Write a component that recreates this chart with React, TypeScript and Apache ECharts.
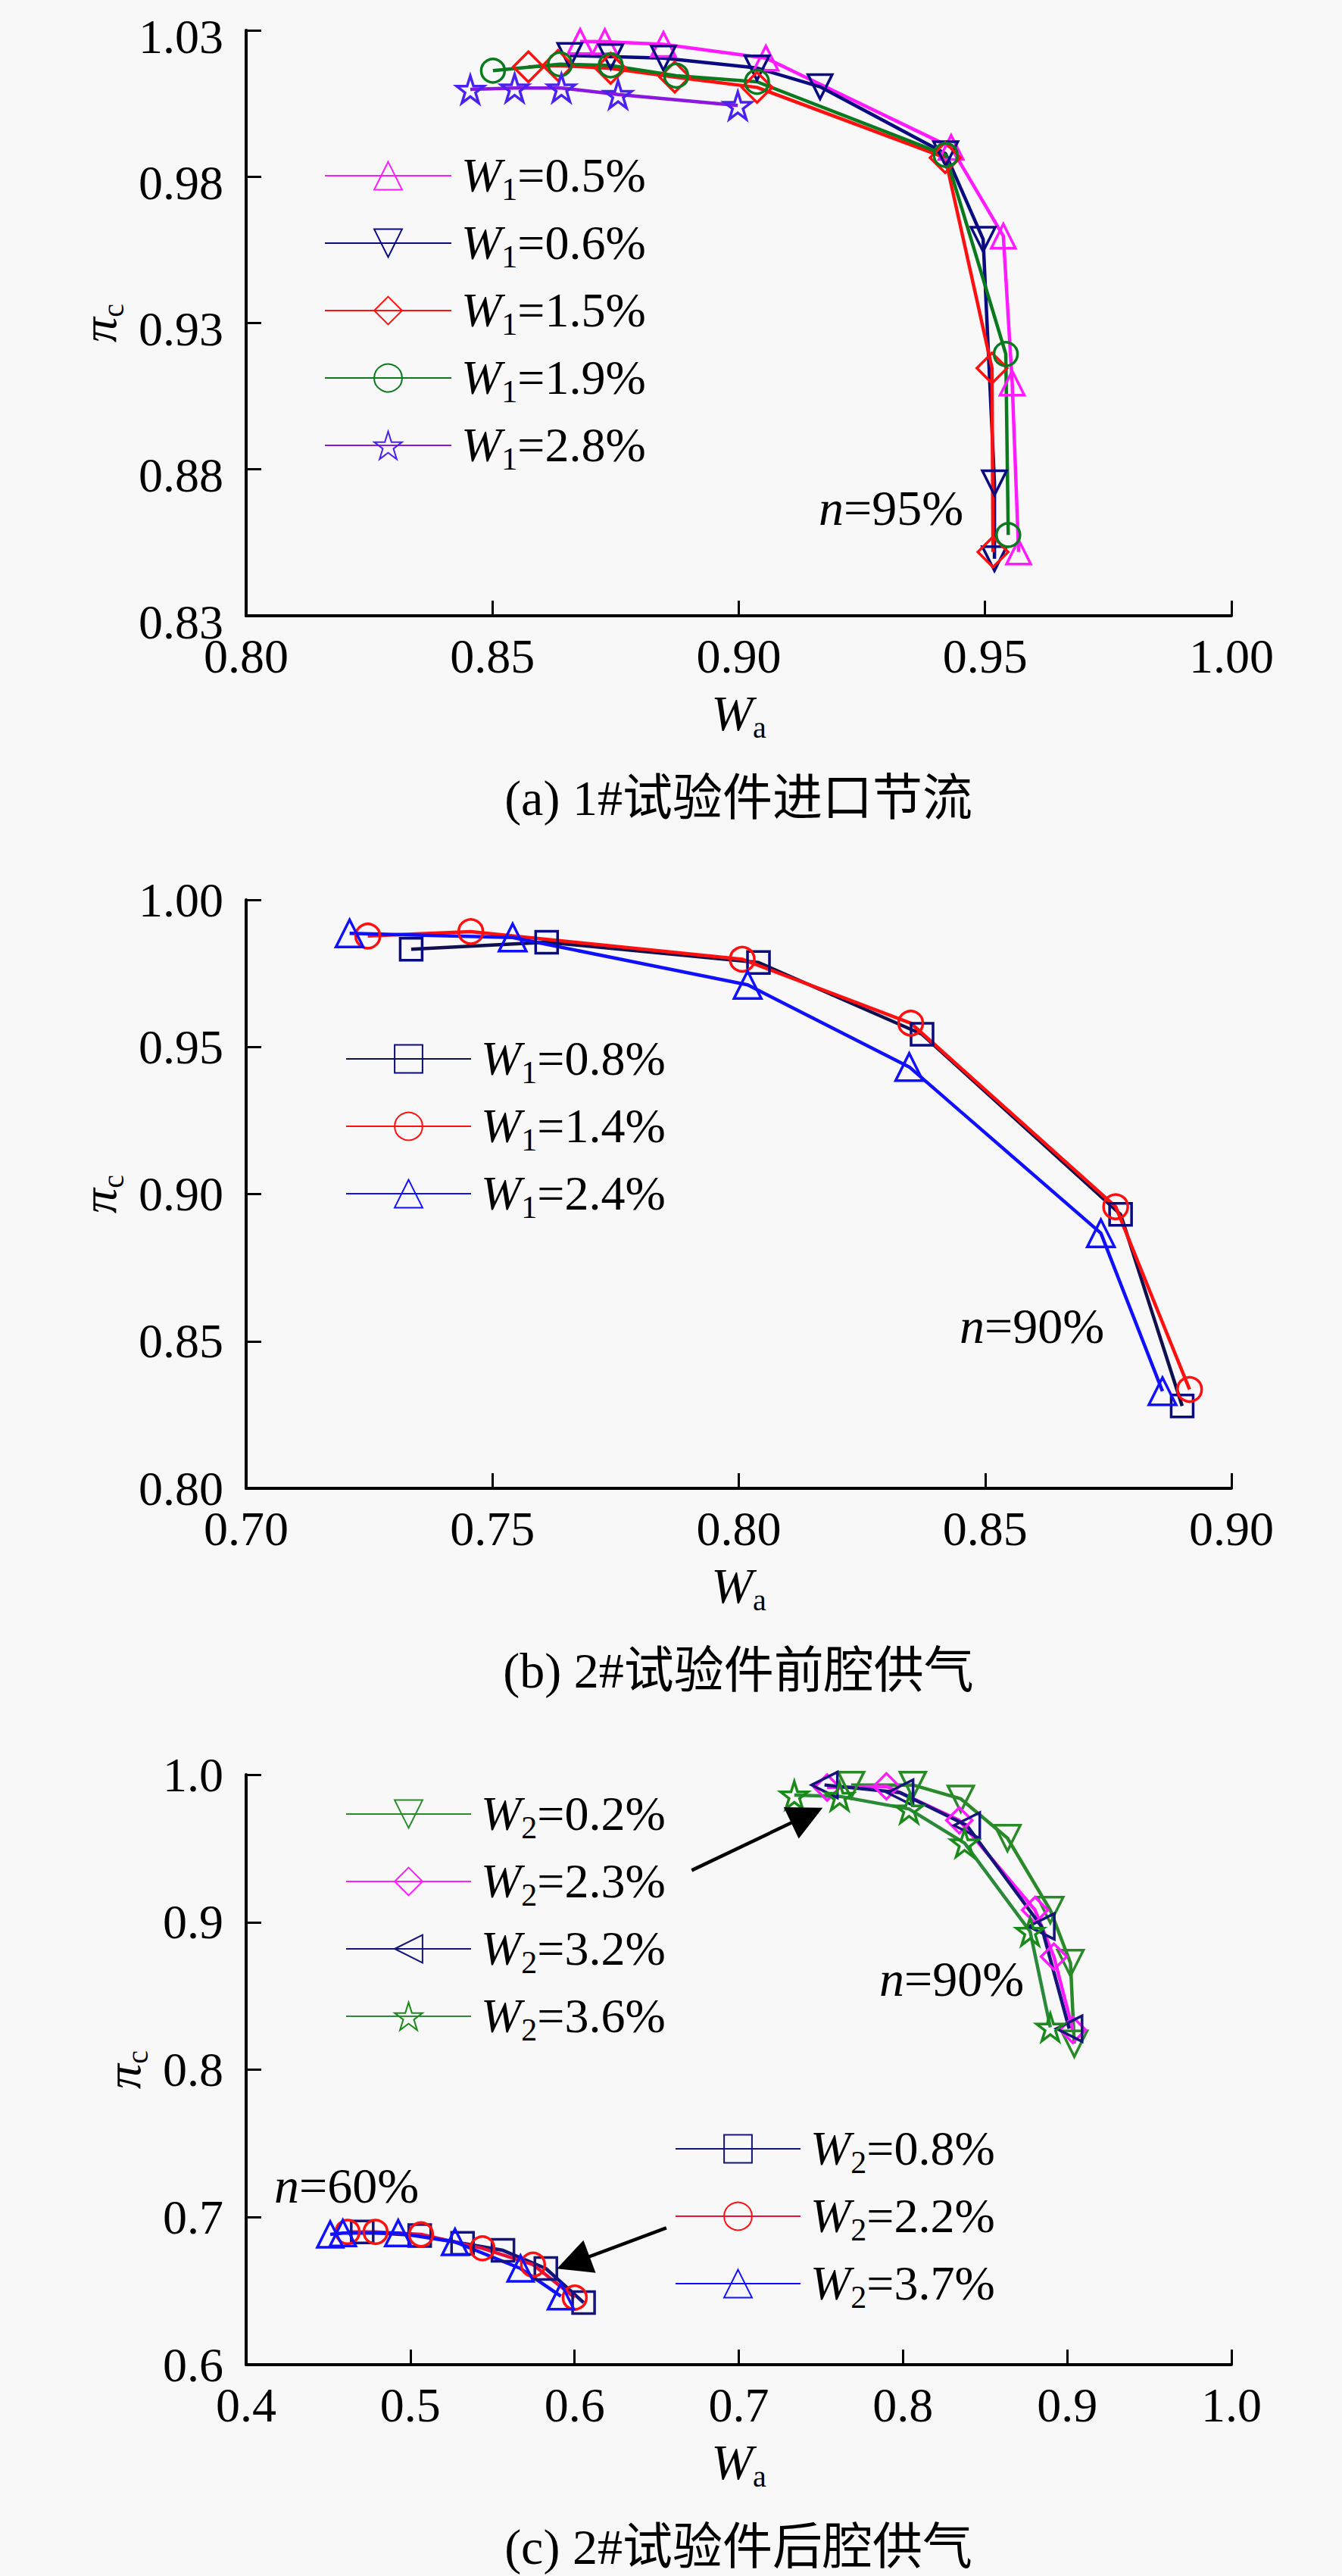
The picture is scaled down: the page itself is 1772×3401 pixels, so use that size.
import React, { useEffect, useRef } from "react";
import * as echarts from "echarts";

// ---------- Panel (a): 1# inlet throttling, n = 95% ----------
const aXTicks = [0.8, 0.85, 0.9, 0.95, 1.0];
const aYTicks = [0.83, 0.88, 0.93, 0.98, 1.03];
const aW05 = [[0.8678, 1.0262], [0.8728, 1.0261], [0.8847, 1.0252], [0.9055, 1.0205], [0.9431, 0.99], [0.9537, 0.9597], [0.9555, 0.9095], [0.9568, 0.8518]];
const aW06 = [[0.8657, 1.0214], [0.874, 1.021], [0.8847, 1.0205], [0.9037, 1.0171], [0.9165, 1.0107], [0.942, 0.9878], [0.9496, 0.9586], [0.9519, 0.8754], [0.9519, 0.8495]];
const aW15 = [[0.8573, 1.0175], [0.8633, 1.018], [0.874, 1.017], [0.887, 1.014], [0.9037, 1.0105], [0.9419, 0.9865], [0.9514, 0.9146], [0.9516, 0.8518]];
const aW19 = [[0.8501, 1.0162], [0.8637, 1.0184], [0.874, 1.018], [0.8873, 1.0145], [0.9037, 1.0124], [0.942, 0.9874], [0.9542, 0.9194], [0.9547, 0.8576]];
const aW28 = [[0.8455, 1.0098], [0.8545, 1.0103], [0.864, 1.0103], [0.8755, 1.0081], [0.8998, 1.0043]];

// ---------- Panel (b): 2# front cavity supply, n = 90% ----------
const bXTicks = [0.7, 0.75, 0.8, 0.85, 0.9];
const bYTicks = [0.8, 0.85, 0.9, 0.95, 1.0];
const bW08 = [[0.7335, 0.9832], [0.761, 0.9856], [0.804, 0.9787], [0.8372, 0.9543], [0.8775, 0.8931], [0.89, 0.828]];
const bW14 = [[0.7247, 0.9877], [0.7456, 0.9892], [0.8007, 0.9798], [0.8349, 0.9581], [0.8765, 0.8957], [0.8915, 0.8336]];
const bW24 = [[0.721, 0.9886], [0.7541, 0.9872], [0.8018, 0.9711], [0.8346, 0.9432], [0.8735, 0.8867], [0.886, 0.833]];

// ---------- Panel (c): 2# rear cavity supply, n = 90% and 60% ----------
const cXTicks = [0.4, 0.5, 0.6, 0.7, 0.8, 0.9, 1.0];
const cYTicks = [0.6, 0.7, 0.8, 0.9, 1.0];
const cW02 = [[0.7684, 0.993], [0.806, 0.993], [0.8352, 0.9836], [0.8636, 0.957], [0.8897, 0.9082], [0.902, 0.8723], [0.9043, 0.8176]];
const cW23 = [[0.7538, 0.9913], [0.7899, 0.9921], [0.8343, 0.969], [0.8804, 0.9082], [0.8919, 0.8766], [0.9034, 0.827]];
const cW32 = [[0.7522, 0.993], [0.7983, 0.9878], [0.8389, 0.9656], [0.8843, 0.8971], [0.9012, 0.8278]];
const cW36 = [[0.7338, 0.9861], [0.7614, 0.9853], [0.8037, 0.9767], [0.8375, 0.9536], [0.8774, 0.8937], [0.8897, 0.8287]];
const cW08 = [[0.4707, 0.69], [0.5057, 0.6875], [0.5318, 0.6823], [0.5564, 0.6775], [0.5825, 0.6652], [0.6055, 0.6421]];
const cW22 = [[0.4618, 0.69], [0.4788, 0.69], [0.5065, 0.6883], [0.5439, 0.6789], [0.5747, 0.6678], [0.6001, 0.6455]];
const cW37 = [[0.4512, 0.6883], [0.4589, 0.6892], [0.4926, 0.6892], [0.5272, 0.6832], [0.5671, 0.6652], [0.5917, 0.6464]];
const cArrows = [
  [[0.6713, 0.9351], [0.7415, 0.9724]],
  [[0.6559, 0.6928], [0.5992, 0.6692]],
];

const captions = ["(a) 1#试验件进口节流", "(b) 2#试验件前腔供气", "(c) 2#试验件后腔供气"];
const speedLabels = ["=95%", "=90%", "=90%", "=60%"];

const SERIF = "'Liberation Serif', 'Times New Roman', serif";
const CAPFONT = "'Liberation Serif', 'Noto Sans CJK SC', serif";
const STAR =
  "path://M0,-10L2.245,-3.09L9.51,-3.09L3.633,1.18L5.88,8.09L0,3.82L-5.88,8.09L-3.633,1.18L-9.51,-3.09L-2.245,-3.09Z";

const FS = 64;
const subRich = (size: number, sub: number, pad: number) => ({
  i: { fontStyle: "italic", fontSize: size, fontFamily: SERIF, lineHeight: size + 2, verticalAlign: "top", color: "#000" },
  s: { fontSize: sub, fontFamily: SERIF, lineHeight: sub, padding: [pad, 0, 0, 0], verticalAlign: "top", color: "#000" },
  r: { fontSize: size, fontFamily: SERIF, lineHeight: size + 2, verticalAlign: "top", color: "#000" },
});

const legendFormatter = (name: string) => {
  const m = name.match(/^W(\d)=(.*)$/);
  if (!m) return name;
  return `{i|W}{s|${m[1]}}{r|=${m[2]}}`;
};

function mkAxis(grid: number, ticks: number[], digits: number, isX: boolean, nameGap: number, labelPad = 0) {
  return {
    type: "value",
    gridIndex: grid,
    min: ticks[0],
    max: ticks[ticks.length - 1],
    interval: +(ticks[1] - ticks[0]).toFixed(4),
    axisLine: { show: true, onZero: false, lineStyle: { color: "#000", width: 4 } },
    axisTick: { show: true, inside: true, length: 20, lineStyle: { color: "#000", width: 3 } },
    splitLine: { show: false },
    axisLabel: {
      color: "#000",
      fontSize: FS,
      fontFamily: SERIF,
      lineHeight: isX ? 66 : 48,
      margin: isX ? 20 : 30,
      showMinLabel: true,
      showMaxLabel: true,
      formatter: (v: number) => `{t|${v.toFixed(digits)}}`,
      rich: {
        t: {
          fontSize: FS,
          fontFamily: SERIF,
          color: "#000",
          lineHeight: isX ? 66 : 48,
          padding: [labelPad, 0, 0, 0],
        },
      },
    },
    name: isX ? "{i|W}{s|a}" : "{i|π}{s|c}",
    nameLocation: "middle",
    nameGap,
    nameTextStyle: { color: "#000", fontSize: FS, fontFamily: SERIF, rich: subRich(66, 40, 32) },
  };
}

type Spec = {
  name: string;
  data: number[][];
  color: string;
  lineColor?: string;
  symbol: string;
  size: number;
  rotate?: number;
  grid: number;
};

function mkSeries(s: Spec) {
  return {
    type: "line",
    name: s.name,
    xAxisIndex: s.grid,
    yAxisIndex: s.grid,
    data: s.data,
    symbol: s.symbol,
    symbolSize: s.size,
    symbolRotate: s.rotate || 0,
    showSymbol: true,
    color: s.color,
    lineStyle: { color: s.lineColor || s.color, width: 4.5 },
    itemStyle: { color: "rgba(0,0,0,0)", borderColor: s.color, borderWidth: 3.5 },
    emphasis: { disabled: true },
    clip: false,
  };
}

const specs: Spec[] = [
  { name: "W1=0.5%", data: aW05, color: "#ff1aff", symbol: "triangle", size: 32, grid: 0 },
  { name: "W1=0.6%", data: aW06, color: "#0a0a80", symbol: "triangle", size: 32, rotate: 180, grid: 0 },
  { name: "W1=1.5%", data: aW15, color: "#ff1010", symbol: "diamond", size: 40, grid: 0 },
  { name: "W1=1.9%", data: aW19, color: "#0b7a1e", symbol: "circle", size: 31, grid: 0 },
  { name: "W1=2.8%", data: aW28, color: "#4a22f0", lineColor: "#8a18e0", symbol: STAR, size: 36, grid: 0 },
  { name: "W1=0.8%", data: bW08, color: "#0a0a80", lineColor: "#101050", symbol: "rect", size: 29, grid: 1 },
  { name: "W1=1.4%", data: bW14, color: "#ff1010", symbol: "circle", size: 32, grid: 1 },
  { name: "W1=2.4%", data: bW24, color: "#1010ff", symbol: "triangle", size: 36, grid: 1 },
  { name: "W2=0.2%", data: cW02, color: "#2a8a2a", symbol: "triangle", size: 34, rotate: 180, grid: 2 },
  { name: "W2=2.3%", data: cW23, color: "#ff1aff", symbol: "diamond", size: 34, grid: 2 },
  { name: "W2=3.2%", data: cW32, color: "#14147a", symbol: "triangle", size: 34, rotate: 90, grid: 2 },
  { name: "W2=3.6%", data: cW36, color: "#1a8a1a", lineColor: "#2a8a3a", symbol: STAR, size: 36, grid: 2 },
  { name: "W2=0.8%", data: cW08, color: "#14147a", symbol: "rect", size: 29, grid: 2 },
  { name: "W2=2.2%", data: cW22, color: "#ff1010", lineColor: "#e8103a", symbol: "circle", size: 31, grid: 2 },
  { name: "W2=3.7%", data: cW37, color: "#1010ff", symbol: "triangle", size: 34, grid: 2 },
];

function mkLegend(names: string[], left: number, top: number, itemWidth: number) {
  return {
    data: names,
    orient: "vertical",
    left,
    top,
    padding: 0,
    itemWidth,
    itemHeight: 46,
    itemGap: 17,
    selectedMode: false,
    formatter: legendFormatter,
    textStyle: { color: "#000", fontSize: FS, fontFamily: SERIF, padding: [0, 0, 0, 8], rich: subRich(FS, 42, 30) },
  };
}

function speedText(x: number, y: number, rest: string) {
  return {
    type: "text",
    x,
    y,
    style: {
      text: `{i|n}{r|${rest}}`,
      fill: "#000",
      fontSize: 66,
      fontFamily: SERIF,
      align: "left",
      verticalAlign: "middle",
      rich: {
        i: { fontStyle: "italic", fontSize: 66, fontFamily: SERIF, fill: "#000" },
        r: { fontSize: 66, fontFamily: SERIF, fill: "#000" },
      },
    },
  };
}

function captionText(y: number, text: string) {
  return {
    type: "text",
    x: 975,
    y,
    style: { text, fill: "#000", fontSize: 66, fontFamily: CAPFONT, align: "center", verticalAlign: "middle" },
  };
}

function buildOption() {
  const series: any[] = specs.map(mkSeries);
  // arrows in panel (c)
  series.push({
    type: "line",
    xAxisIndex: 2,
    yAxisIndex: 2,
    data: [],
    silent: true,
    markLine: {
      silent: true,
      symbol: ["none", "triangle"],
      symbolSize: 46,
      label: { show: false },
      lineStyle: { color: "#000", width: 4.5, type: "solid" },
      itemStyle: { color: "#000" },
      data: cArrows.map((a) => [{ coord: a[0] }, { coord: a[1] }]),
    },
  });
  return {
    animation: false,
    backgroundColor: "#f8f8f8",
    grid: [
      { left: 325, top: 33, width: 1301, height: 780 },
      { left: 325, top: 1188, width: 1301, height: 777 },
      { left: 325, top: 2343, width: 1301, height: 779 },
    ],
    xAxis: [mkAxis(0, aXTicks, 2, true, 95), mkAxis(1, bXTicks, 2, true, 95), mkAxis(2, cXTicks, 1, true, 95)],
    yAxis: [
      mkAxis(0, aYTicks, 2, false, 160, 16),
      mkAxis(1, bYTicks, 2, false, 160),
      mkAxis(2, cYTicks, 1, false, 128),
    ],
    legend: [
      mkLegend(["W1=0.5%", "W1=0.6%", "W1=1.5%", "W1=1.9%", "W1=2.8%"], 428, 199, 167),
      mkLegend(["W1=0.8%", "W1=1.4%", "W1=2.4%"], 456, 1365, 165),
      mkLegend(["W2=0.2%", "W2=2.3%", "W2=3.2%", "W2=3.6%"], 456, 2362, 165),
      mkLegend(["W2=0.8%", "W2=2.2%", "W2=3.7%"], 891, 2804, 165),
    ],
    graphic: [
      speedText(1081, 670, speedLabels[0]),
      speedText(1267, 1750, speedLabels[1]),
      speedText(1161, 2612, speedLabels[2]),
      speedText(362, 2885, speedLabels[3]),
      captionText(1053, captions[0]),
      captionText(2205, captions[1]),
      captionText(3362, captions[2]),
    ],
    series,
  };
}

export default function App() {
  const ref = useRef<HTMLDivElement>(null);
  useEffect(() => {
    if (!ref.current) return;
    const chart = echarts.init(ref.current, null, { renderer: "svg" });
    chart.setOption(buildOption() as any);
    return () => chart.dispose();
  }, []);
  return (
    <div
      ref={ref}
      style={{ position: "absolute", left: 0, top: 0, width: 1772, height: 3401, background: "#f8f8f8" }}
    />
  );
}
